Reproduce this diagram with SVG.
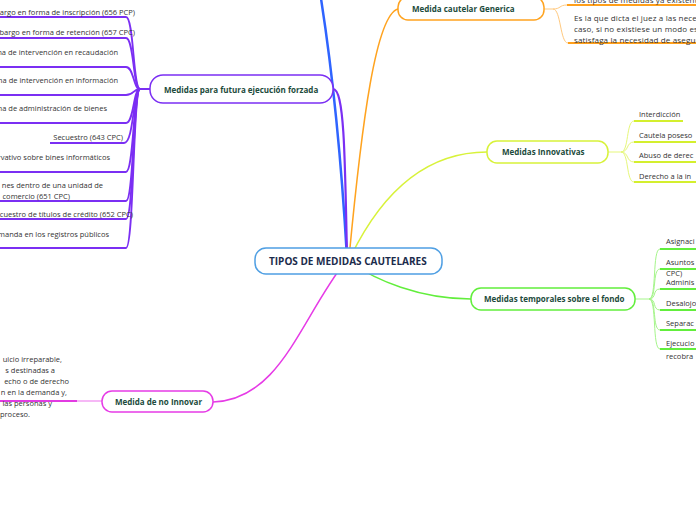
<svg xmlns="http://www.w3.org/2000/svg" width="696" height="520" viewBox="0 0 696 520">
<style>
.t{font-family:"Open Sans","Noto Sans",sans-serif;font-size:7.5px;fill:#333}
.p{font-size:8px;letter-spacing:0.15px}
.n{font-family:"Open Sans","Noto Sans",sans-serif;font-size:8px;font-weight:bold;fill:#1d4b3c}
.c{font-family:"Open Sans","Noto Sans",sans-serif;font-size:10px;font-weight:bold;fill:#1b2b4b}
.box{fill:#fff;stroke-width:1.5}
.e{fill:none;stroke-linecap:round}
.pu{stroke:#7b2ff3;stroke-width:1.8;fill:none}
.or{stroke:#ff9f1a;stroke-width:2;fill:none}
.orl{stroke:#ffc97e;stroke-width:1;fill:none}
.ye{stroke:#d4ef2e;stroke-width:2;fill:none}
.yel{stroke:#e6f77a;stroke-width:1;fill:none}
.gr{stroke:#62ee3c;stroke-width:2;fill:none}
.grl{stroke:#a5f58a;stroke-width:1;fill:none}
.ma{stroke:#e23be2;stroke-width:2;fill:none}
</style>
<rect width="696" height="520" fill="#fff"/>
<g id="connectors">
<path class="e" d="M347,258 Q338,100 318,-20" stroke="#2f64ff" stroke-width="2.5"/>
<path class="e" d="M347,258 C345,150 344,89 333,89" stroke="#7b2ff3" stroke-width="2.2"/>
<path class="e" d="M349,258 C362,120 376,15 398,9" stroke="#ffa31f" stroke-width="1.5"/>
<path class="e" d="M350,258 C378,200 420,152 487,152" stroke="#d8f23a" stroke-width="1.5"/>
<path class="e" d="M350,262 C375,280 420,299 471,299" stroke="#62ee3c" stroke-width="1.5"/>
<path class="e" d="M345,262 C300,320 280,400 213,402" stroke="#e63be6" stroke-width="1.5"/>
<!-- purple children -->
<path class="pu" d="M150,89 H140 C133,89 134,17 126,17 H-5"/>
<path class="pu" d="M140,89 C133,89 134,38 126,38 H-5"/>
<path class="pu" d="M140,89 C133,89 134,67 126,67 H-5"/>
<path class="pu" d="M140,89 C133,89 134,95 126,95 H-5"/>
<path class="pu" d="M140,89 C133,89 134,123 126,123 H-5"/>
<path class="pu" d="M140,89 C133,89 134,143 124,143 H50"/>
<path class="pu" d="M140,89 C133,89 134,172 126,172 H-5"/>
<path class="pu" d="M140,89 C133,89 134,201 126,201 H-5"/>
<path class="pu" d="M140,89 C133,89 134,219 126,219 H-5"/>
<path class="pu" d="M140,89 C133,89 134,248 126,248 H-5"/>
<!-- orange children -->
<path class="orl" d="M544,9 H553 C561,9 559,5 567,5"/>
<path class="orl" d="M553,9 C561,9 560,43 568,43"/>
<path class="or" d="M567,5 H700"/>
<path class="or" d="M568,43 H700"/>
<!-- yellow children -->
<path class="yel" d="M608,152 H621 C629,152 626,121 634,121"/>
<path class="yel" d="M621,152 C629,152 626,142 634,142"/>
<path class="yel" d="M621,152 C629,152 626,162 634,162"/>
<path class="yel" d="M621,152 C629,152 626,182 634,182"/>
<path class="ye" d="M634,121 H683"/>
<path class="ye" d="M634,142 H700"/>
<path class="ye" d="M634,162 H700"/>
<path class="ye" d="M634,182 H700"/>
<!-- green children -->
<path class="grl" d="M635,299 H649 C657,299 652,249 660,249"/>
<path class="grl" d="M649,299 C657,299 652,269 660,269"/>
<path class="grl" d="M649,299 C657,299 652,289 660,289"/>
<path class="grl" d="M649,299 C657,299 652,310 660,310"/>
<path class="grl" d="M649,299 C657,299 652,330 660,330"/>
<path class="grl" d="M649,299 C657,299 652,349 660,349"/>
<path class="gr" d="M660,249 H700"/>
<path class="gr" d="M660,269 H700"/>
<path class="gr" d="M660,289 H700"/>
<path class="gr" d="M660,310 H700"/>
<path class="gr" d="M660,330 H700"/>
<path class="gr" d="M660,349 H700"/>
<!-- magenta child -->
<path d="M77,401 H102" stroke="#f6b8f6" stroke-width="2" fill="none"/>
<path class="ma" d="M-5,401 H77"/>
</g>
<g id="root">
<rect class="box" x="255" y="248" width="187" height="26" rx="11" stroke="#4f9fe3"/>
<text class="c" x="269" y="265">TIPOS DE MEDIDAS CAUTELARES</text>
</g>
<g id="futura">
<rect class="box" x="150" y="75" width="183" height="28" rx="13" stroke="#7b2ff3"/>
<text class="n" x="164" y="93">Medidas para futura ejecución forzada</text>
</g>
<g id="generica">
<rect class="box" x="398" y="-3" width="146" height="23" rx="10" stroke="#ffa31f"/>
<text class="n" x="412" y="12">Medida cautelar Generica</text>
</g>
<g id="innovativas">
<rect class="box" x="487" y="141" width="121" height="22" rx="10" stroke="#d8f23a"/>
<text class="n" x="502" y="155">Medidas Innovativas</text>
</g>
<g id="temporales">
<rect class="box" x="471" y="288" width="164" height="22" rx="10" stroke="#62ee3c"/>
<text class="n" x="484" y="302">Medidas temporales sobre el fondo</text>
</g>
<g id="noinnovar">
<rect class="box" x="102" y="391" width="111" height="21" rx="10" stroke="#e63be6"/>
<text class="n" x="115" y="405">Medida de no Innovar</text>
</g>
<g id="f1"><text class="t" x="135" y="14.5" text-anchor="end">bargo en forma de inscripción (656 PCP)</text></g>
<g id="f2"><text class="t" x="135" y="35" text-anchor="end">mbargo en forma de retención (657 CPC)</text></g>
<g id="f3"><text class="t" x="118" y="54.5" text-anchor="end">ma de intervención en recaudación</text></g>
<g id="f4"><text class="t" x="118" y="83" text-anchor="end">ma de intervención en información</text></g>
<g id="f5"><text class="t" x="107" y="111" text-anchor="end">ma de administración de bienes</text></g>
<g id="f6"><text class="t" x="123" y="140" text-anchor="end">Secuestro (643 CPC)</text></g>
<g id="f7"><text class="t" x="110" y="160" text-anchor="end">rvativo sobre bines informáticos</text></g>
<g id="f8"><text class="t" text-anchor="end"><tspan x="103" y="188">nes  dentro de una  unidad de</tspan><tspan x="70" y="198.5">comercio (651 CPC)</tspan></text></g>
<g id="f9"><text class="t" x="133" y="217" text-anchor="end">ecuestro de títulos de crédito (652 CPC)</text></g>
<g id="f10"><text class="t" x="109" y="237" text-anchor="end">manda en los registros públicos</text></g>
<g id="g1"><text class="t p" x="574" y="2.5">los tipos de medidas ya existente</text></g>
<g id="g2"><text class="t p"><tspan x="574" y="21">Es la que dicta el juez a las neces</tspan><tspan x="574" y="32">caso,  si no existiese un modo es</tspan><tspan x="574" y="42.5">satisfaga la necesidad de asegur</tspan></text></g>
<g id="i1"><text class="t" x="639" y="117">Interdicción</text></g>
<g id="i2"><text class="t" x="639" y="138">Cautela poseso</text></g>
<g id="i3"><text class="t" x="639" y="158">Abuso de derec</text></g>
<g id="i4"><text class="t" x="639" y="179">Derecho a la in</text></g>
<g id="t1"><text class="t" x="666" y="244">Asignaci</text></g>
<g id="t2"><text class="t"><tspan x="666" y="265">Asuntos</tspan><tspan x="666" y="276">CPC)</tspan></text></g>
<g id="t3"><text class="t" x="666" y="285">Adminis</text></g>
<g id="t4"><text class="t" x="666" y="306">Desalojo</text></g>
<g id="t5"><text class="t" x="666" y="326">Separac</text></g>
<g id="t6"><text class="t"><tspan x="666" y="346">Ejecucio</tspan><tspan x="666" y="359">recobra</tspan></text></g>
<g id="m1"><text class="t" text-anchor="end"><tspan x="62" y="362">uicio irreparable,</tspan><tspan x="55" y="373">s destinadas a</tspan><tspan x="69" y="384">echo o de derecho</tspan><tspan x="67" y="395">n en la demanda y,</tspan><tspan x="52" y="406">las personas y</tspan><tspan x="30" y="417">proceso.</tspan></text></g>
</svg>
